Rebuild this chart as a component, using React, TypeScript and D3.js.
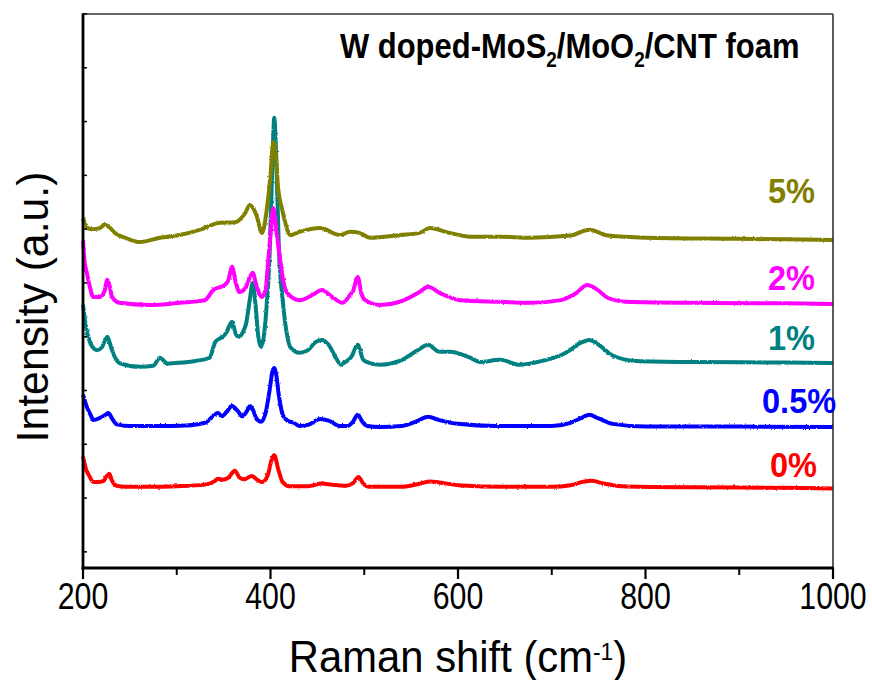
import React from "react";
import * as d3 from "d3";

const xTicksMajor = [200, 400, 600, 800, 1000];
const xTicksMinor = [300, 500, 700, 900];
const yTicks = [0, 1, 2, 3, 4, 5, 6, 7, 8, 9, 10];

const seriesNames = ["0%", "0.5%", "1%", "2%", "5%"];
const seriesColors = ["#FF0000", "#0000FF", "#008080", "#FF00FF", "#808000"];

const red0: [number, number][] = [
  [200, 1.77], [203, 1.55], [207, 1.4], [211, 1.3], [216, 1.3], [222, 1.32], [225, 1.4], [228, 1.45], [231, 1.32],
  [236, 1.23], [245, 1.21], [270, 1.21], [300, 1.22], [330, 1.25], [340, 1.31], [344, 1.36], [349, 1.34], [355, 1.38],
  [362, 1.51], [367, 1.38], [372, 1.35], [380, 1.41], [385, 1.35], [391, 1.3], [397, 1.42], [401, 1.7], [404, 1.8],
  [408, 1.55], [413, 1.3], [420, 1.22], [440, 1.22], [455, 1.27], [465, 1.25], [480, 1.23], [488, 1.28], [494, 1.39],
  [499, 1.27], [505, 1.21], [540, 1.21], [560, 1.27], [570, 1.31], [580, 1.29], [600, 1.24], [650, 1.21], [700, 1.21],
  [720, 1.24], [735, 1.31], [743, 1.32], [755, 1.27], [775, 1.22], [850, 1.2], [950, 1.19], [1000, 1.18],
];

const blue05: [number, number][] = [
  [200, 2.92], [204, 2.7], [208, 2.55], [211, 2.45], [218, 2.49], [224, 2.55], [227, 2.58], [231, 2.48], [236, 2.37],
  [250, 2.34], [280, 2.34], [310, 2.35], [330, 2.4], [344, 2.58], [348, 2.52], [353, 2.6], [359, 2.71], [365, 2.62],
  [370, 2.52], [375, 2.62], [378, 2.71], [381, 2.65], [385, 2.48], [390, 2.42], [395, 2.6], [399, 3.0], [402, 3.35],
  [404, 3.42], [406, 3.3], [409, 2.9], [413, 2.55], [418, 2.44], [425, 2.4], [431, 2.34], [440, 2.36], [453, 2.47],
  [462, 2.44], [474, 2.34], [482, 2.34], [488, 2.42], [493, 2.55], [498, 2.42], [503, 2.34], [517, 2.32], [540, 2.34],
  [555, 2.42], [568, 2.51], [580, 2.45], [600, 2.38], [640, 2.34], [700, 2.34], [720, 2.4], [733, 2.5], [740, 2.55],
  [750, 2.48], [765, 2.38], [800, 2.33], [900, 2.33], [1000, 2.32],
];

const teal1: [number, number][] = [
  [200, 4.6], [203, 4.2], [207, 3.92], [210, 3.81], [215, 3.75], [220, 3.8], [226, 4.0], [230, 3.8], [234, 3.62],
  [239, 3.51], [261, 3.44], [275, 3.46], [282, 3.61], [290, 3.5], [298, 3.51], [320, 3.55], [335, 3.61], [341, 3.9],
  [347, 3.98], [352, 4.05], [359, 4.28], [363, 4.05], [366, 4.0], [371, 4.1], [374, 4.25], [378, 4.7], [381, 5.0],
  [384, 4.6], [387, 4.0], [390, 3.81], [395, 4.37], [399, 5.5], [402, 7.2], [404, 8.07], [406, 7.4], [409, 5.6],
  [413, 4.68], [418, 4.0], [421, 3.81], [431, 3.7], [440, 3.75], [448, 3.9], [455, 3.94], [462, 3.85], [470, 3.6],
  [475, 3.48], [479, 3.52], [486, 3.62], [493, 3.85], [499, 3.57], [506, 3.51], [517, 3.48], [538, 3.55], [557, 3.75],
  [568, 3.85], [580, 3.72], [591, 3.72], [613, 3.61], [623, 3.53], [645, 3.57], [666, 3.48], [690, 3.55], [715, 3.7],
  [730, 3.88], [740, 3.94], [750, 3.85], [765, 3.65], [790, 3.55], [850, 3.53], [950, 3.52], [1000, 3.51],
];

const magenta2: [number, number][] = [
  [200, 5.8], [202, 5.35], [204, 5.19], [207, 4.95], [211, 4.74], [218, 4.74], [223, 4.85], [226, 5.06], [229, 4.9],
  [231, 4.74], [239, 4.63], [271, 4.59], [303, 4.63], [330, 4.68], [339, 4.87], [351, 4.96], [355, 5.05], [359, 5.3],
  [363, 5.0], [367, 4.83], [373, 4.9], [378, 5.1], [381, 5.19], [385, 4.95], [391, 4.74], [395, 4.9], [397, 5.3],
  [400, 5.9], [403, 6.39], [406, 6.0], [410, 5.48], [414, 5.0], [418, 4.81], [431, 4.68], [445, 4.78], [455, 4.87],
  [465, 4.75], [477, 4.63], [485, 4.78], [488, 4.85], [493, 5.11], [497, 4.8], [501, 4.68], [517, 4.59], [538, 4.65],
  [559, 4.83], [568, 4.93], [581, 4.81], [602, 4.68], [645, 4.65], [677, 4.63], [710, 4.68], [725, 4.8], [738, 4.96],
  [748, 4.88], [760, 4.72], [780, 4.65], [850, 4.63], [950, 4.62], [1000, 4.61],
];

const olive5: [number, number][] = [
  [200, 6.21], [205, 6.02], [210, 6.0], [218, 6.02], [223, 6.08], [229, 6.02], [234, 5.93], [245, 5.84], [261, 5.76],
  [282, 5.84], [303, 5.89], [325, 5.99], [346, 6.12], [362, 6.13], [373, 6.3], [378, 6.45], [385, 6.26], [391, 5.93],
  [396, 6.36], [400, 7.0], [403, 7.62], [406, 7.3], [408, 6.78], [412, 6.4], [415, 6.17], [421, 5.89], [431, 5.95],
  [453, 6.02], [474, 5.89], [485, 5.95], [495, 5.93], [506, 5.84], [538, 5.89], [559, 5.93], [570, 6.02], [591, 5.93],
  [613, 5.86], [645, 5.86], [677, 5.84], [720, 5.88], [740, 5.99], [760, 5.88], [800, 5.84], [900, 5.82], [1000, 5.8],
];

const seriesData = [red0, blue05, teal1, magenta2, olive5];

// label layout (pixels)
const labelPos: [number, number][] = [
  [770, 477],
  [762, 413],
  [768, 350],
  [768, 290],
  [768, 203],
];

const W = 872;
const H = 680;
const left = 83;
const right = 833;
const top = 14;
const bottom = 568;
const FONT = "'Liberation Sans', Arial, Helvetica, sans-serif";

export default function App() {
  const x = d3.scaleLinear().domain([200, 1000]).range([left, right]);
  const y = d3.scaleLinear().domain([-0.3, 10]).range([bottom, top]);
  const line = d3
    .line<[number, number]>()
    .x((d) => x(d[0]))
    .y((d) => y(d[1]))
    .curve(d3.curveMonotoneX);

  return (
    <svg
      width={W}
      height={H}
      style={{ position: "absolute", left: 0, top: 0, background: "#fff" }}
      fontFamily={FONT}
    >
      <defs>
        <filter id="noise" x="-5%" y="-20%" width="110%" height="140%">
          <feTurbulence type="fractalNoise" baseFrequency="0.45" numOctaves={2} seed={3} result="t" />
          <feDisplacementMap in="SourceGraphic" in2="t" scale={2.2} xChannelSelector="R" yChannelSelector="G" />
        </filter>
      </defs>
      <rect x={0} y={0} width={W} height={H} fill="#fff" />

      {/* series */}
      <g filter="url(#noise)">
        {seriesData.map((d, i) => (
          <path
            key={seriesNames[i]}
            d={line(d) || ""}
            fill="none"
            stroke={seriesColors[i]}
            strokeWidth={4}
            strokeLinejoin="round"
          />
        ))}
      </g>

      {/* frame */}
      <line x1={left} x2={right} y1={top} y2={top} stroke="#333" strokeWidth={1.6} />
      <line x1={right} x2={right} y1={top} y2={bottom} stroke="#333" strokeWidth={1.6} />
      <line x1={left} x2={left} y1={top - 0.8} y2={bottom + 1.5} stroke="#000" strokeWidth={2.8} />
      <line x1={left - 1.4} x2={right + 0.8} y1={bottom} y2={bottom} stroke="#000" strokeWidth={3} />

      {/* y ticks inward */}
      {yTicks.map((t) => (
        <line key={"y" + t} x1={left} x2={left + 4} y1={y(t)} y2={y(t)} stroke="#000" strokeWidth={1.5} />
      ))}

      {/* x ticks */}
      {xTicksMajor.map((t) => (
        <line key={"xM" + t} x1={x(t)} x2={x(t)} y1={bottom} y2={bottom + 11} stroke="#000" strokeWidth={2.2} />
      ))}
      {xTicksMinor.map((t) => (
        <line key={"xm" + t} x1={x(t)} x2={x(t)} y1={bottom} y2={bottom + 7} stroke="#000" strokeWidth={2} />
      ))}
      {xTicksMajor.map((t) => (
        <text
          key={"xl" + t}
          transform={`translate(${x(t)},609) scale(0.82,1)`}
          textAnchor="middle"
          fontSize={37}
          fill="#000"
        >
          {t}
        </text>
      ))}

      {/* axis titles */}
      <text transform={`translate(${(left + right) / 2},672) scale(0.95,1)`} textAnchor="middle" fontSize={44} fill="#000">
        Raman shift (cm
        <tspan fontSize={24} dy={-12}>
          -1
        </tspan>
        <tspan dy={12}>)</tspan>
      </text>
      <text transform="translate(48,307) rotate(-90) scale(0.95,1)" textAnchor="middle" fontSize={45} fill="#000">
        Intensity (a.u.)
      </text>

      {/* title */}
      <text transform="translate(340,58) scale(0.86,1)" fontSize={36} fontWeight="bold" fill="#000">
        W doped-MoS
        <tspan fontSize={22} dy={9}>
          2
        </tspan>
        <tspan dy={-9}>/MoO</tspan>
        <tspan fontSize={22} dy={9}>
          2
        </tspan>
        <tspan dy={-9}>/CNT foam</tspan>
      </text>

      {/* series labels */}
      {seriesNames.map((n, i) => (
        <text
          key={"lab" + n}
          transform={`translate(${labelPos[i][0]},${labelPos[i][1]}) scale(0.93,1)`}
          fontSize={35}
          fontWeight="bold"
          fill={seriesColors[i]}
        >
          {n}
        </text>
      ))}
    </svg>
  );
}
